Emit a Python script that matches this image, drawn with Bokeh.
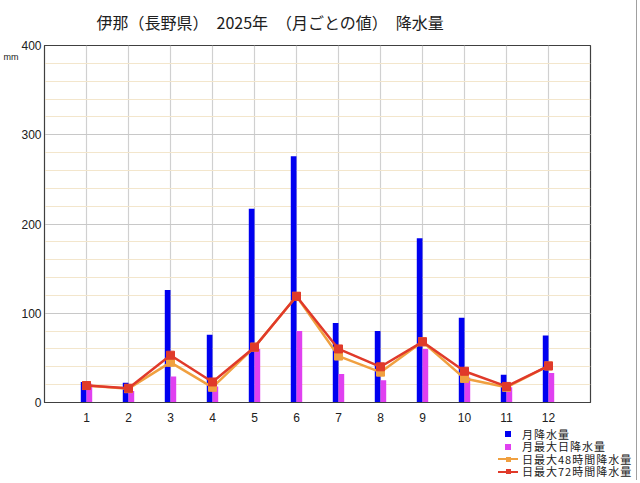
from bokeh.plotting import figure
from bokeh.layouts import column, row
from bokeh.models import (ColumnDataSource, FixedTicker, SingleIntervalTicker, Range1d, LinearAxis, Div)
from bokeh.transform import dodge
from bokeh.embed import file_html
from bokeh.resources import INLINE

months = list(range(1, 13))
month_labels = [str(m) for m in months]
monthly_total = [23, 22, 126, 76, 217, 276, 89, 80, 184, 95, 31, 75]
max_daily = [21, 13, 29, 18, 60, 80, 32, 25, 60, 28, 17, 33]
max_48h = [19, 15.5, 45, 17, 62, 119, 52, 34, 68, 27, 17, 41]
max_72h = [19, 16, 53, 23, 62, 119, 60, 40, 68, 35, 18, 41]

title_text = "伊那（長野県）　2025年　（月ごとの値）　降水量"
unit_label = "mm"
legend_labels = ["月降水量", "月最大日降水量", "日最大48時間降水量", "日最大72時間降水量"]

BLUE = "#0000f0"
MAGENTA = "#e040f0"
ORANGE = "#f0a040"
RED = "#e03a2a"
JP = "Noto Sans CJK JP"
legend_colors = [BLUE, MAGENTA, ORANGE, RED]
legend_has_line = [False, False, True, True]

src = ColumnDataSource(dict(month=months, total=monthly_total, daily=max_daily,
                            h48=max_48h, h72=max_72h))

W = 632
H_MAIN = 428
H_LEG = 47

p = figure(width=W, height=H_MAIN, output_backend="svg", toolbar_location=None,
           x_range=Range1d(0, 13), y_range=Range1d(0, 400),
           min_border_left=43, min_border_right=42, min_border_top=43, min_border_bottom=26)
p.background_fill_color = "white"
p.border_fill_color = "white"
p.outline_line_color = "#404040"
p.outline_line_width = 1.2

p.title.text = title_text
p.title.align = "left"
p.title.offset = 52
p.title.vertical_align = "top"
p.title.standoff = 19
p.title.text_font = JP
p.title.text_font_size = "16px"
p.title.text_font_style = "normal"
p.title.text_color = "#202020"

p.xaxis.ticker = FixedTicker(ticks=months)
p.xaxis.major_label_overrides = {m: l for m, l in zip(months, month_labels)}
p.yaxis.ticker = SingleIntervalTicker(interval=100, num_minor_ticks=5)
p.xgrid.grid_line_color = "#d0d0d0"
p.xgrid.grid_line_width = 1.2
p.ygrid.grid_line_color = "#c8c8c8"
p.ygrid.grid_line_width = 1
p.ygrid.minor_grid_line_color = "#f3e6cc"
p.ygrid.minor_grid_line_width = 1

for ax in (p.xaxis, p.yaxis):
    ax.axis_line_color = "#404040"
    ax.major_tick_line_color = None
    ax.minor_tick_line_color = None
    ax.major_tick_out = 0
    ax.minor_tick_out = 0
    ax.major_tick_in = 0
    ax.minor_tick_in = 0
    ax.major_label_text_font = "Liberation Sans"
    ax.major_label_text_font_size = "12px"
    ax.major_label_text_color = "#202020"
p.yaxis.major_label_standoff = 3
p.xaxis.major_label_standoff = 10

unit_axis = LinearAxis(ticker=FixedTicker(ticks=[387]), major_label_overrides={387: unit_label},
                       axis_line_color=None, major_tick_line_color=None, minor_tick_line_color=None,
                       major_tick_out=0, minor_tick_out=0, major_tick_in=0, minor_tick_in=0,
                       major_label_standoff=0, major_label_text_font="Liberation Sans",
                       major_label_text_font_size="9px", major_label_text_color="#202020")
p.add_layout(unit_axis, "left")

p.vbar(x=dodge("month", -0.068), top="total", bottom=0, width=0.136,
       source=src, fill_color=BLUE, line_color=None)
p.vbar(x=dodge("month", 0.068), top="daily", bottom=0, width=0.136,
       source=src, fill_color=MAGENTA, line_color=None)

p.line("month", "h48", source=src, line_color=ORANGE, line_width=2.5)
p.scatter("month", "h48", source=src, marker="square", size=8,
          fill_color=ORANGE, line_color=ORANGE)
p.line("month", "h72", source=src, line_color=RED, line_width=2.5)
p.scatter("month", "h72", source=src, marker="square", size=8,
          fill_color=RED, line_color=RED)

# legend below the chart, as HTML
pitch = 12.5
rows = []
for i, (lab, col, has_line) in enumerate(zip(legend_labels, legend_colors, legend_has_line)):
    top = i * pitch
    line_html = ""
    if has_line:
        line_html = (f'<span style="position:absolute;left:0;top:5px;width:20px;height:2px;'
                     f'background:{col}"></span>')
        sq = 5
    else:
        sq = 6
    sq_html = (f'<span style="position:absolute;left:{10 - sq / 2}px;top:{6 - sq / 2}px;'
               f'width:{sq}px;height:{sq}px;background:{col}"></span>')
    rows.append(
        f'<div style="position:absolute;left:498px;top:{top}px;height:12px;white-space:nowrap;">'
        f'<span style="position:absolute;left:0;top:0;width:20px;height:12px;">{line_html}{sq_html}</span>'
        f'<span style="position:absolute;left:24px;top:0.5px;line-height:11px;font-size:11px;'
        f'letter-spacing:1px;font-family:\'{JP}\';color:#202020;">{lab}</span></div>'
    )
legend_html = (f'<div style="position:relative;width:{W}px;height:{H_LEG}px;overflow:visible;">'
               + "".join(rows) + '</div>')
leg = Div(text=legend_html, width=W, height=H_LEG, margin=0)

edge = Div(text="", width=5, height=480, margin=0,
           styles={"border-right": "1px solid #a0a0a0", "box-sizing": "border-box"})

layout = row(column(p, leg, spacing=0), edge, spacing=0)
open("out.html", "w").write(file_html(layout, INLINE))
